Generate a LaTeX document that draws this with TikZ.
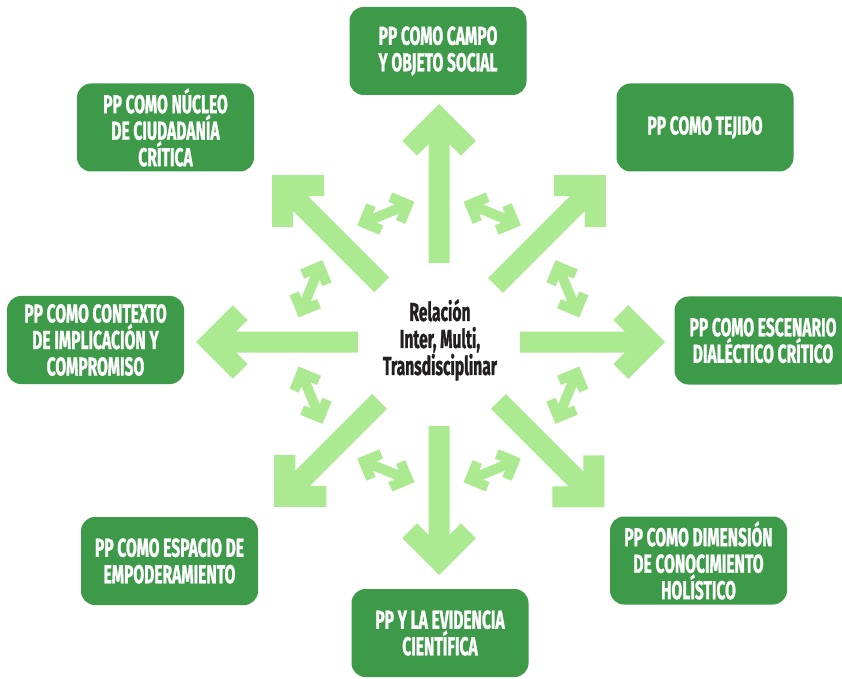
\documentclass[tikz,border=0pt]{standalone}
\usepackage{fontspec}
\newfontfamily\condfont{Fira Sans}[FakeStretch=0.6, BoldFeatures={FakeBold=1.0}]
\definecolor{boxgreen}{HTML}{3C9A48}
\definecolor{arrgreen}{HTML}{ABEA90}
\definecolor{darktext}{HTML}{231F20}
% big arrow: angle, inner radius, tip radius
\newcommand{\bigarr}[3]{%
 \fill[arrgreen,shift={(C)},rotate=#1] (#3,0) -- ({#3-36.77},36.77) -- ({#3-51.62},21.92) -- ({#3-40.2},10.5) -- (#2,10.5) -- (#2,-10.5) -- ({#3-40.2},-10.5) -- ({#3-51.62},-21.92) -- ({#3-36.77},-36.77) -- cycle;}
% small double arrow: angle
\newcommand{\smallarr}[1]{%
 \fill[arrgreen,shift={(C)},rotate=#1,shift={(139,0)}] (0,31) -- (16.97,14.03) -- (9.90,6.96) -- (5,11.86) -- (5,-11.86) -- (9.90,-6.96) -- (16.97,-14.03) -- (0,-31) -- (-16.97,-14.03) -- (-9.90,-6.96) -- (-5,-11.86) -- (-5,11.86) -- (-9.90,6.96) -- (-16.97,14.03) -- cycle;}
\tikzset{
 ppbox/.style={fill=boxgreen, rounded corners=14pt, minimum width=177pt, minimum height=88pt, text=white, align=center, inner sep=0pt, font=\condfont\bfseries\fontsize{26}{26.5}\selectfont},
 centertext/.style={text=darktext, align=center, inner sep=0pt, font=\condfont\bfseries\fontsize{26}{27}\selectfont}
}
\begin{document}
\begin{tikzpicture}[x=1pt,y=1pt]
\useasboundingbox (0,0) rectangle (842,678);
\fill[white] (0,0) rectangle (842,678);
\clip (0,0) rectangle (842,678);
\coordinate (C) at (439,336);
% big arrows
\bigarr{0}{81}{226}
\bigarr{45}{80}{236}
\bigarr{90}{79}{238}
\bigarr{135}{81}{236}
\bigarr{180}{81}{243}
\bigarr{225}{84}{233}
\bigarr{270}{84}{233}
\bigarr{315}{84}{234}
% small double arrows
\foreach \a in {22.5,67.5,112.5,157.5,202.5,247.5,292.5,337.5} {\smallarr{\a}}
% boxes
\node[ppbox] (campo) at (438,627) {PP COMO CAMPO\\Y OBJETO SOCIAL};
\node[ppbox] (tejido) at (705,550.5) {PP COMO TEJIDO};
\node[ppbox] (escenario) at (763,337.5) {PP COMO ESCENARIO\\DIALÉCTICO CRÍTICO};
\node[ppbox] (dimension) at (698.5,117.5) {PP COMO DIMENSIÓN\\DE CONOCIMIENTO\\HOLÍSTICO};
\node[ppbox] (evidencia) at (440,45) {PP Y LA EVIDENCIA\\CIENTÍFICA};
\node[ppbox] (espacio) at (169.5,117) {PP COMO ESPACIO DE\\EMPODERAMIENTO};
\node[ppbox] (contexto) at (95.5,338) {PP COMO CONTEXTO\\DE IMPLICACIÓN Y\\COMPROMISO};
\node[ppbox] (nucleo) at (165.5,550.5) {PP COMO NÚCLEO\\DE CIUDADANÍA\\CRÍTICA};
\node[centertext] (relacion) at (440,338) {Relación\\Inter, Multi,\\Transdisciplinar};
\end{tikzpicture}
\end{document}
